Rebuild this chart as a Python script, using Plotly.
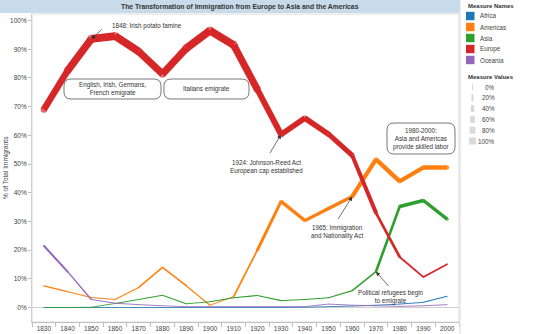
import plotly.graph_objects as go

years = [1830, 1840, 1850, 1860, 1870, 1880, 1890, 1900, 1910, 1920,
         1930, 1940, 1950, 1960, 1970, 1980, 1990, 2000]
africa = [0, 0, 0, 0, 0, 0, 0, 0, 0, 0, 0, 0.1, 0.3, 0.5, 0.8, 1.2, 1.8, 3.9]
americas = [7.5, 5.5, 3.5, 2.8, 7.0, 14.0, 7.6, 0.8, 3.8, 20.0,
            37.0, 30.3, 34.5, 38.7, 51.6, 44.0, 48.8, 48.8]
asia = [0, 0, 0.1, 1.4, 2.8, 4.3, 1.3, 2.0, 3.4, 4.2,
        2.4, 2.8, 3.4, 5.9, 12.5, 35.2, 37.3, 30.8]
europe = [69.0, 82.5, 93.6, 94.6, 89.2, 81.4, 90.3, 96.5, 91.5, 76.0,
          60.3, 66.0, 60.4, 53.0, 33.0, 17.6, 10.6, 15.1]
oceania = [21.5, 12.5, 2.8, 1.5, 1.0, 0.6, 0.3, 0.3, 0.3, 0.3,
           0.3, 0.3, 1.2, 0.8, 0.6, 0.4, 0.6, 1.0]

series_names = ["Africa", "Americas", "Asia", "Europe", "Oceania"]
series_values = [africa, americas, asia, europe, oceania]
colors = ["#1f77b4", "#ff7f0e", "#2ca02c", "#d62728", "#9467bd"]
y_ticks = [0, 10, 20, 30, 40, 50, 60, 70, 80, 90, 100]
y_labels = [f"{v}%" for v in y_ticks]
size_labels = ["0%", "20%", "40%", "60%", "80%", "100%"]

FONT = "Liberation Sans, Arial, sans-serif"
L, R, T, B = 32, 459, 14, 322
W, H = R - L, B - T


def px(x):
    return (x - L) / W


def py(y):
    return (B - y) / H


def width_of(v):
    return 0.8 + 0.075 * v


fig = go.Figure()

for name, vals, col in zip(series_names, series_values, colors):
    for i in range(len(years) - 1):
        w = width_of((vals[i] + vals[i + 1]) / 2)
        fig.add_trace(go.Scatter(
            x=[years[i], years[i + 1]], y=[vals[i], vals[i + 1]],
            mode="lines", line=dict(color=col, width=w),
            showlegend=False, hoverinfo="skip", name=name))
    sizes = []
    for i in range(len(years)):
        nb = []
        if i > 0:
            nb.append(width_of((vals[i - 1] + vals[i]) / 2))
        if i < len(years) - 1:
            nb.append(width_of((vals[i] + vals[i + 1]) / 2))
        sizes.append(max(nb))
    fig.add_trace(go.Scatter(
        x=years, y=vals, mode="markers",
        marker=dict(color=col, size=sizes, line=dict(width=0)),
        showlegend=False, name=name))

shapes = []
annotations = []

# title bar
shapes.append(dict(type="rect", xref="paper", yref="paper",
                   x0=px(0), x1=px(460), y0=py(13), y1=py(0),
                   fillcolor="#c8dbea", line=dict(width=0), layer="below"))
# pane border
shapes.append(dict(type="rect", xref="paper", yref="paper",
                   x0=0, x1=1, y0=0, y1=1,
                   line=dict(color="#dcdcdc", width=1), layer="below"))
# separator line
shapes.append(dict(type="line", xref="paper", yref="paper",
                   x0=px(460), x1=px(460), y0=py(0), y1=py(334),
                   line=dict(color="#dcdcdc", width=1)))

annotations.append(dict(
    text="<b>The Transformation of Immigration from Europe to Asia and the Americas</b>",
    xref="paper", yref="paper", x=px(240), y=py(6.5), showarrow=False,
    xanchor="center", yanchor="middle",
    font=dict(family=FONT, size=6.8, color="#333333")))

# y axis title
annotations.append(dict(
    text="% of Total Immigrants", xref="paper", yref="paper",
    x=px(6), y=py(168), showarrow=False, textangle=-90,
    xanchor="center", yanchor="middle",
    font=dict(family=FONT, size=6.5, color="#444444")))


def rounded_rect(x0, y0, x1, y1, r):
    # pixel coords -> paper path
    pts = [
        ("M", [(x0 + r, y0)]),
        ("L", [(x1 - r, y0)]),
        ("Q", [(x1, y0), (x1, y0 + r)]),
        ("L", [(x1, y1 - r)]),
        ("Q", [(x1, y1), (x1 - r, y1)]),
        ("L", [(x0 + r, y1)]),
        ("Q", [(x0, y1), (x0, y1 - r)]),
        ("L", [(x0, y0 + r)]),
        ("Q", [(x0, y0), (x0 + r, y0)]),
    ]
    s = ""
    for cmd, ps in pts:
        s += cmd + " " + " ".join(f"{px(a):.5f},{py(b):.5f}" for a, b in ps) + " "
    return s + "Z"


boxes = [
    (64, 79, 161, 99, "English, Irish, Germans,<br>French emigrate", 112, 89),
    (164, 79, 249, 99, "Italians emigrate", 206.5, 89),
    (387, 123, 455, 154, "1980-2000:<br>Asia and Americas<br>provide skilled labor", 421, 138.5),
]
for x0, y0, x1, y1, txt, cx, cy in boxes:
    shapes.append(dict(type="path", xref="paper", yref="paper",
                       path=rounded_rect(x0, y0, x1, y1, 7),
                       line=dict(color="#555555", width=0.8),
                       fillcolor="rgba(255,255,255,0.9)"))
    annotations.append(dict(text=txt, xref="paper", yref="paper", x=px(cx), y=py(cy),
                            showarrow=False, xanchor="center", yanchor="middle",
                            font=dict(family=FONT, size=6.3, color="#333333")))

# free text notes
notes = [
    ("1848: Irish potato famine", 110, 26, "left"),
    ("1924: Johnson-Reed Act<br>European cap established", 266, 166.5, "center"),
    ("1965: Immigration<br>and Nationality Act", 337, 232, "center"),
    ("Political refugees begin<br>to emigrate", 391, 297, "center"),
]
for txt, cx, cy, anc in notes:
    annotations.append(dict(text=txt, xref="paper", yref="paper", x=px(cx), y=py(cy),
                            showarrow=False, xanchor=anc, yanchor="middle",
                            font=dict(family=FONT, size=6.3, color="#333333")))

# arrows (head at data points)
arrows = [
    (years[2], europe[2], 12, -11),
    (years[10], europe[10], -12, 20),
    (years[13], americas[13], -15, 24),
    (years[14], asia[14], 14, 16),
]
for xa, ya, ax, ay in arrows:
    annotations.append(dict(text="", x=xa, y=ya, xref="x", yref="y",
                            ax=ax, ay=ay, showarrow=True, arrowhead=2,
                            arrowsize=1.2, arrowwidth=0.7, arrowcolor="#333333",
                            standoff=0))

# legend: Measure Names
annotations.append(dict(text="<b>Measure Names</b>", xref="paper", yref="paper",
                        x=px(466), y=py(6), showarrow=False, xanchor="left",
                        yanchor="middle", font=dict(family=FONT, size=6, color="#333333")))
for k, (name, col) in enumerate(zip(series_names, colors)):
    cy = 16 + k * 11
    shapes.append(dict(type="rect", xref="paper", yref="paper",
                       x0=px(466), x1=px(474.5), y0=py(cy + 4.2), y1=py(cy - 4.2),
                       fillcolor=col, line=dict(width=0)))
    annotations.append(dict(text=name, xref="paper", yref="paper",
                            x=px(478), y=py(cy), showarrow=False, xanchor="left",
                            yanchor="middle", font=dict(family=FONT, size=6.3, color="#444444")))

# legend: Measure Values
annotations.append(dict(text="<b>Measure Values</b>", xref="paper", yref="paper",
                        x=px(466), y=py(77), showarrow=False, xanchor="left",
                        yanchor="middle", font=dict(family=FONT, size=6, color="#333333")))
for k, lab in enumerate(size_labels):
    cy = 87 + k * 10.8
    bw = 1 + k * 1.2
    shapes.append(dict(type="rect", xref="paper", yref="paper",
                       x0=px(472.5 - bw / 2), x1=px(472.5 + bw / 2),
                       y0=py(cy + 3.5), y1=py(cy - 3.5),
                       fillcolor="#d9d9d9", line=dict(width=0)))
    annotations.append(dict(text=lab, xref="paper", yref="paper",
                            x=px(497), y=py(cy), showarrow=False, xanchor="right",
                            yanchor="middle", font=dict(family=FONT, size=6.3, color="#444444")))

fig.update_layout(
    width=545, height=334,
    margin=dict(l=L, r=545 - R, t=T, b=334 - B, autoexpand=False),
    paper_bgcolor="white", plot_bgcolor="white",
    showlegend=False,
    shapes=shapes, annotations=annotations,
    xaxis=dict(range=[1825, 2005], tickmode="array", tickvals=years,
               ticktext=[str(y) for y in years], ticks="", automargin=False,
               showgrid=False, zeroline=False, showline=True,
               linecolor="#c0c0c0", linewidth=1,
               tickfont=dict(family=FONT, size=6.5, color="#444444"),
               minor=dict(tickmode="linear", tick0=1825, dtick=10, ticks="outside",
                          ticklen=4, tickcolor="#c0c0c0", tickwidth=1, showgrid=False),
               fixedrange=True),
    yaxis=dict(range=[-5.05, 102.3], tickmode="array", tickvals=y_ticks,
               ticktext=y_labels, ticks="outside", ticklen=3, tickcolor="#c0c0c0",
               automargin=False,
               showgrid=False, zeroline=True, zerolinecolor="#d0d0d0", zerolinewidth=1,
               showline=True, linecolor="#d0d0d0", linewidth=1,
               tickfont=dict(family=FONT, size=6.5, color="#444444"),
               fixedrange=True),
)

fig.write_html("out.html")
